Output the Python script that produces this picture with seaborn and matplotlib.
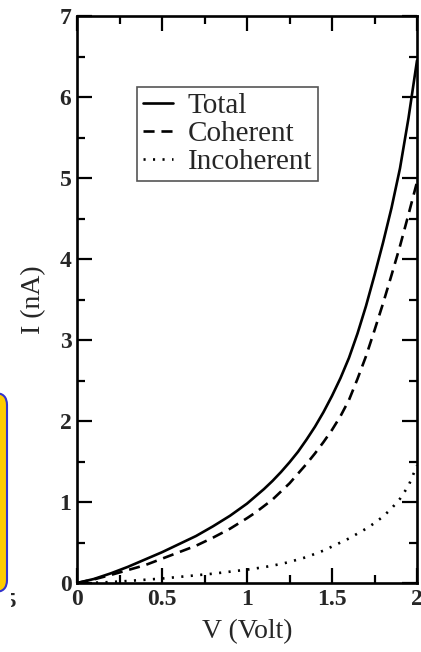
import numpy as np
import pandas as pd
import matplotlib
matplotlib.use("Agg")
import matplotlib.pyplot as plt
from matplotlib.patches import FancyBboxPatch, Rectangle
from matplotlib.ticker import MultipleLocator
import seaborn as sns

# Bias voltage (V) and currents (nA)
voltage = [0.0, 0.1, 0.2, 0.3, 0.4, 0.5, 0.6, 0.7, 0.8, 0.9, 1.0,
           1.05, 1.1, 1.15, 1.2, 1.25, 1.3, 1.35, 1.4, 1.45, 1.5,
           1.55, 1.6, 1.65, 1.7, 1.75, 1.8, 1.85, 1.9, 1.95, 2.0]
total = [0.0, 0.05, 0.12, 0.20, 0.29, 0.38, 0.48, 0.58, 0.70, 0.83, 0.98,
         1.07, 1.16, 1.26, 1.37, 1.49, 1.62, 1.77, 1.93, 2.11, 2.31,
         2.53, 2.78, 3.08, 3.42, 3.80, 4.20, 4.63, 5.12, 5.74, 6.45]
coherent = [0.0, 0.045, 0.10, 0.16, 0.22, 0.30, 0.38, 0.46, 0.56, 0.67, 0.80,
            0.87, 0.95, 1.03, 1.13, 1.23, 1.35, 1.47, 1.60, 1.74, 1.89,
            2.06, 2.26, 2.52, 2.80, 3.12, 3.45, 3.80, 4.16, 4.55, 4.95]
incoherent = [0.0, 0.003, 0.012, 0.025, 0.04, 0.055, 0.075, 0.095, 0.115, 0.14, 0.165,
              0.18, 0.195, 0.215, 0.235, 0.26, 0.29, 0.32, 0.36, 0.40, 0.45,
              0.50, 0.55, 0.61, 0.67, 0.74, 0.82, 0.92, 1.04, 1.20, 1.45]
series_names = ["Total", "Coherent", "Incoherent"]

df = pd.DataFrame({
    "V": voltage * 3,
    "I": total + coherent + incoherent,
    "kind": sum([[n] * len(voltage) for n in series_names], []),
})

sns.set_style("ticks")
plt.rcParams["font.family"] = ["Liberation Serif", "DejaVu Serif"]

fig = plt.figure(figsize=(4.21, 6.52), dpi=100)
ax = fig.add_axes([77 / 421, 1 - 583 / 652, 340 / 421, 567 / 652])

dash_patterns = {"Total": None, "Coherent": (4.2, 2.6), "Incoherent": (0.8, 2.8)}
for name in series_names:
    sub = df[df["kind"] == name]
    sns.lineplot(data=sub, x="V", y="I", ax=ax, color="black",
                 linewidth=1.9, label=name)
    if dash_patterns[name] is not None:
        ax.lines[-1].set_dashes(dash_patterns[name])

ax.set_xlim(0, 2)
ax.set_ylim(0, 7)
ax.xaxis.set_minor_locator(MultipleLocator(0.25))
ax.yaxis.set_minor_locator(MultipleLocator(0.5))
ax.set_xticks([0, 0.5, 1, 1.5, 2])
ax.set_xticklabels(["0", "0.5", "1", "1.5", "2"])
ax.set_yticks(range(8))
ax.set_yticklabels([str(i) for i in range(8)])

ax.tick_params(which="both", direction="in", top=True, right=True, width=1.6, color="black")
ax.tick_params(which="major", length=10.5, pad=4)
ax.tick_params(which="minor", length=5.5)
for lab in ax.get_xticklabels() + ax.get_yticklabels():
    lab.set_fontweight("bold")
    lab.set_fontsize(17)
for sp in ax.spines.values():
    sp.set_linewidth(1.9)
    sp.set_color("black")

ax.set_xlabel("V (Volt)", fontsize=20, labelpad=7)
ax.set_ylabel("I (nA)", fontsize=20, labelpad=10)

leg = ax.legend(loc="upper left", bbox_to_anchor=((137 - 77) / 340, (583 - 87) / 567),
                fontsize=21, frameon=True, fancybox=False, framealpha=1,
                handlelength=1.05, handletextpad=0.48, labelspacing=0.05,
                borderpad=0.2, borderaxespad=0)
leg.get_frame().set_edgecolor("#555555")
leg.get_frame().set_linewidth(1.2)

# Neighbouring panel at the left edge
box = FancyBboxPatch((-0.3, 0.60), 0.37, 1.99,
                     boxstyle="round,pad=0,rounding_size=0.12",
                     transform=fig.dpi_scale_trans, facecolor="#FFCC00",
                     edgecolor="#3333CC", linewidth=1.5, zorder=5)
fig.patches.append(box)
clip = Rectangle((0.105, 0.0), 1.0, 1.0, transform=fig.dpi_scale_trans)
t = fig.text(0.155, 0.45, "5", fontsize=15, fontweight="bold",
             ha="right", va="baseline", transform=fig.dpi_scale_trans)
t.set_clip_path(clip)
t.set_clip_on(True)

fig.savefig("out.png", dpi=100)
